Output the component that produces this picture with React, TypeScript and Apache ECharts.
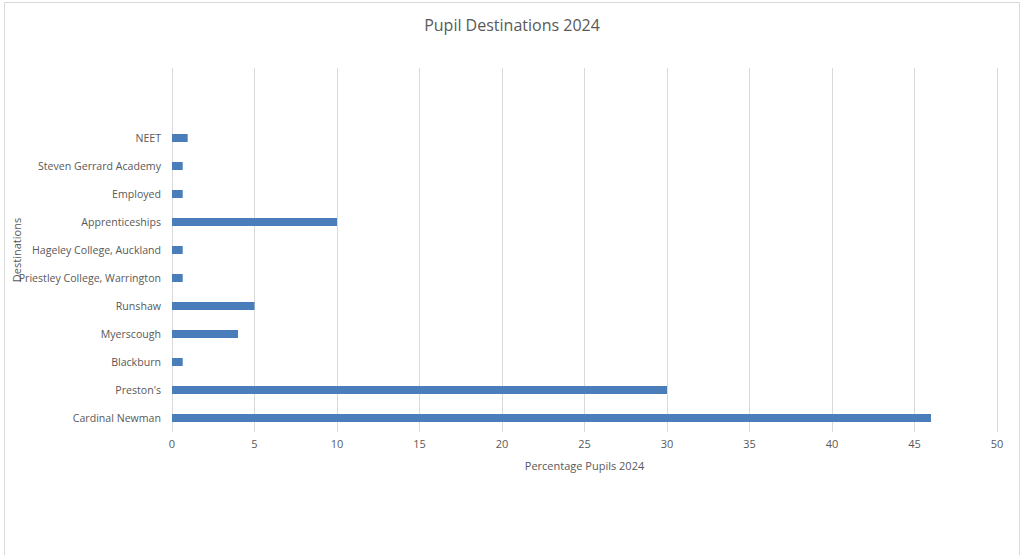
import React, { useEffect, useRef } from "react";
import * as echarts from "echarts";

const categories = [
  "Cardinal Newman",
  "Preston's",
  "Blackburn",
  "Myerscough",
  "Runshaw",
  "Priestley College, Warrington",
  "Hageley College, Auckland",
  "Apprenticeships",
  "Employed",
  "Steven Gerrard Academy",
  "NEET",
  "",
  "",
];
const percentages = [46, 30, 0.65, 4, 5, 0.65, 0.65, 10, 0.65, 0.65, 0.95, null, null];
const xTicks = { min: 0, max: 50, interval: 5 };

export default function App() {
  const ref = useRef<HTMLDivElement>(null);
  useEffect(() => {
    if (!ref.current) return;
    const chart = echarts.init(ref.current, null, { renderer: "svg" });
    const font = "'Open Sans', 'Noto Sans', sans-serif";
    chart.setOption({
      animation: false,
      backgroundColor: "#ffffff",
      title: {
        text: "Pupil Destinations 2024",
        left: "center",
        top: 12,
        textStyle: { fontFamily: font, fontSize: 16, fontWeight: "normal", color: "#595959" },
      },
      graphic: [
        {
          type: "rect",
          shape: { x: 4.5, y: 2.5, width: 1015, height: 570 },
          style: { fill: "none", stroke: "#d9d9d9", lineWidth: 1 },
          silent: true,
        },
      ],
      grid: {
        left: 172,
        right: 27,
        top: 68,
        bottom: 123,
        containLabel: false,
        outerBoundsMode: "none",
      },
      xAxis: {
        type: "value",
        min: xTicks.min,
        max: xTicks.max,
        interval: xTicks.interval,
        name: "Percentage Pupils 2024",
        nameLocation: "middle",
        nameGap: 28,
        nameTextStyle: { fontFamily: font, fontSize: 11, color: "#595959" },
        axisLine: { show: false },
        axisTick: { show: false },
        axisLabel: { fontFamily: font, fontSize: 11, color: "#595959", margin: 6 },
        splitLine: { show: true, lineStyle: { color: "#d9d9d9", width: 1 } },
      },
      yAxis: {
        type: "category",
        data: categories,
        name: "Destinations",
        nameLocation: "middle",
        nameGap: 150,
        nameRotate: 90,
        nameMoveOverlap: false,
        nameTextStyle: { fontFamily: font, fontSize: 11, color: "#595959" },
        axisLine: { show: false },
        axisTick: { show: false },
        axisLabel: {
          fontFamily: font,
          fontSize: 10.6,
          color: "#595959",
          margin: 11,
          padding: [0, 0, 8, 0],
        },
        splitLine: { show: false },
      },
      series: [
        {
          type: "bar",
          data: percentages,
          barWidth: 8,
          itemStyle: { color: "#4a7ebb" },
        },
      ],
    });
    return () => chart.dispose();
  }, []);
  return (
    <div
      ref={ref}
      style={{ position: "absolute", left: 0, top: 0, width: 1024, height: 555 }}
    />
  );
}
